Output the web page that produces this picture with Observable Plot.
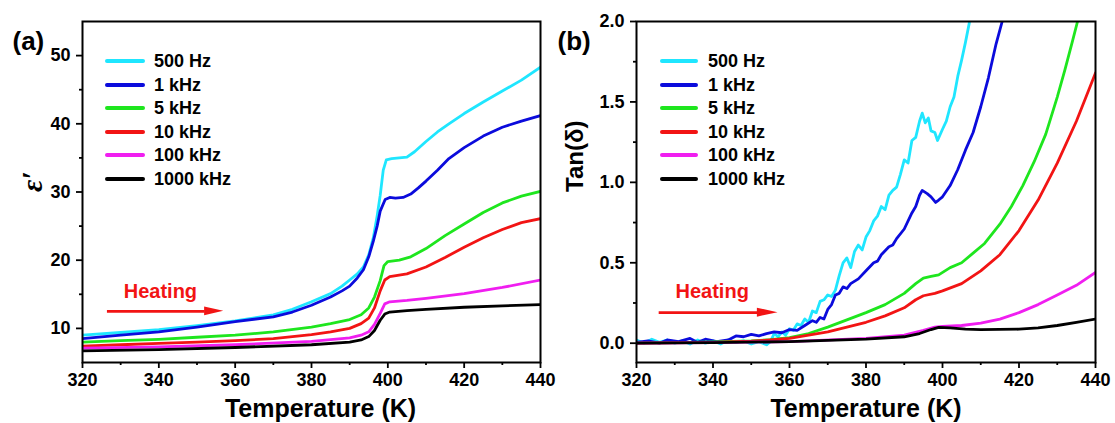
<!DOCTYPE html>
<html>
<head>
<meta charset="utf-8">
<script src="https://cdn.jsdelivr.net/npm/d3@7"></script>
<script src="https://cdn.jsdelivr.net/npm/@observablehq/plot@0.6"></script>
<style>
  html, body { margin: 0; padding: 0; background: #fff; }
  #wrap { position: relative; width: 1115px; height: 423px; display: flex; }
  .legend { position: absolute; font-family: "Liberation Sans", Arial, sans-serif; font-weight: bold; font-size: 18px; color: #000; }
  .legend .row { position: absolute; height: 20px; white-space: nowrap; }
  .legend .sw { position: absolute; top: 8px; height: 4px; border-radius: 2px; }
  .legend .lab { position: absolute; top: 0; line-height: 20px; }
</style>
</head>
<body>
<div id="wrap"></div>
<script>
// ---------- data ----------
const freqs = ["500 Hz", "1 kHz", "5 kHz", "10 kHz", "100 kHz", "1000 kHz"];
const colors = ["#1fe6ff", "#0b0bdc", "#1ee61e", "#f21414", "#f01ef0", "#000000"];

const xTicks = [320, 340, 360, 380, 400, 420, 440];
const xMinor = [330, 350, 370, 390, 410, 430];
const epsTicks = [10, 20, 30, 40, 50];
const epsMinor = [15, 25, 35, 45];
const tanTicks = [0, 0.5, 1.0, 1.5, 2.0];
const tanMinor = [0.25, 0.75, 1.25, 1.75];

// (a) real permittivity epsilon'
const eps500 = [[320,9.0],[330,9.4],[340,9.8],[350,10.4],[360,11.1],[370,12.0],[375,12.8],[380,13.9],[385,15.1],[388,16.2],[390,17.1],[392,18.0],[393.6,19.0],[395,20.8],[396.2,23.3],[397.2,26.5],[398,29.5],[398.8,33.2],[399.6,34.7],[401,34.9],[403,35.0],[405,35.1],[407,35.9],[410,37.4],[413,38.8],[416,40.0],[420,41.5],[425,43.2],[430,44.8],[435,46.4],[440,48.3]];
const eps1k = [[320,8.5],[330,9.0],[340,9.5],[350,10.2],[360,11.0],[370,11.7],[375,12.4],[380,13.4],[385,14.6],[388,15.5],[390,16.2],[392,17.4],[393.6,18.6],[395,20.5],[396.2,22.8],[397.2,25.0],[398,27.2],[399.3,28.9],[400.5,29.2],[402,29.1],[404,29.2],[406,29.7],[408,30.6],[410,31.6],[413,33.2],[416,34.9],[420,36.5],[425,38.2],[430,39.5],[435,40.4],[440,41.2]];
const eps5k = [[320,8.0],[330,8.2],[340,8.4],[350,8.7],[360,9.0],[370,9.5],[380,10.2],[385,10.7],[390,11.3],[393,12.0],[395,13.0],[396.5,14.6],[398,17.0],[399,19.2],[400,19.8],[403,20.0],[406,20.5],[410,21.7],[415,23.6],[420,25.3],[425,27.0],[430,28.4],[435,29.4],[440,30.1]];
const eps10k = [[320,7.4],[330,7.6],[340,7.8],[350,8.0],[360,8.2],[370,8.5],[380,9.1],[385,9.5],[390,10.0],[393,10.7],[395,11.5],[396.5,13.0],[398,15.5],[399.2,17.1],[400.5,17.6],[405,18.0],[410,19.0],[415,20.4],[420,21.9],[425,23.3],[430,24.5],[435,25.5],[440,26.1]];
const eps100k = [[320,7.1],[340,7.3],[360,7.6],[380,8.1],[390,8.6],[393,9.0],[395,9.5],[396.5,10.6],[398,12.2],[399.2,13.6],[400.5,13.9],[405,14.1],[410,14.4],[420,15.1],[430,16.0],[440,17.1]];
const eps1000k = [[320,6.7],[340,6.9],[360,7.2],[380,7.6],[390,8.0],[393,8.3],[395,8.8],[396.5,9.7],[398,11.2],[399.2,12.1],[400.5,12.4],[405,12.6],[410,12.8],[420,13.1],[430,13.3],[440,13.5]];

// (b) loss tangent
const tan500 = [[320,0.02],[322,0.0],[324,0.025],[326,0.005],[328,0.02],[330,0.0],[332,0.015],[334,-0.005],[336,0.02],[338,0.0],[340,0.015],[342,-0.005],[344,0.02],[346,0.005],[348,0.015],[350,-0.005],[352,0.01],[354,-0.01],[355,0.01],[356,0.06],[357,0.04],[358,0.07],[359,0.05],[360,0.09],[361,0.08],[362,0.12],[363,0.11],[364,0.15],[365,0.13],[366,0.2],[367,0.19],[368,0.26],[369,0.27],[370,0.3],[371,0.29],[372,0.33],[373,0.42],[374,0.5],[375,0.53],[376,0.47],[377,0.57],[378,0.61],[379,0.58],[380,0.66],[381,0.7],[382,0.76],[383,0.79],[384,0.85],[385,0.83],[386,0.92],[387,0.95],[388,0.97],[389,1.05],[390,1.14],[391,1.12],[392,1.26],[393,1.28],[394,1.38],[394.7,1.43],[395.5,1.37],[396.3,1.4],[397,1.32],[398,1.31],[398.7,1.26],[400,1.33],[401,1.38],[402,1.47],[403,1.53],[404,1.66],[405,1.76],[406,1.87],[407,1.99],[408,2.15]];
const tan1k = [[320,0.005],[323,0.015],[326,0.0],[328,0.02],[331,0.01],[334,0.03],[336,0.005],[338,0.025],[341,0.01],[344,0.02],[346,0.045],[348,0.04],[350,0.055],[352,0.045],[354,0.06],[356,0.07],[358,0.065],[360,0.085],[362,0.08],[364,0.11],[366,0.14],[367,0.13],[368,0.16],[369,0.15],[370,0.21],[371,0.24],[372,0.3],[373,0.31],[374,0.35],[375,0.34],[376,0.37],[378,0.4],[380,0.45],[382,0.5],[383,0.51],[384,0.55],[386,0.6],[387,0.61],[388,0.65],[390,0.71],[392,0.81],[393,0.85],[394,0.92],[394.7,0.95],[396,0.93],[397,0.91],[398.2,0.875],[399,0.89],[400,0.91],[402,0.98],[404,1.08],[406,1.2],[408,1.31],[410,1.47],[412,1.65],[414,1.86],[415.6,2.0],[416.5,2.1]];
const tan5k = [[320,0.0],[330,0.003],[340,0.008],[350,0.015],[355,0.022],[360,0.035],[365,0.06],[370,0.1],[375,0.145],[380,0.19],[385,0.24],[390,0.31],[393,0.37],[395,0.405],[397,0.415],[399,0.425],[402,0.47],[405,0.5],[408,0.56],[411,0.62],[415,0.74],[418,0.85],[421,0.98],[424,1.13],[427,1.3],[430,1.53],[432,1.7],[434,1.88],[435.3,2.0],[436,2.1]];
const tan10k = [[320,0.0],[340,0.005],[350,0.012],[355,0.02],[360,0.03],[365,0.05],[370,0.07],[375,0.1],[380,0.13],[385,0.17],[390,0.22],[393,0.27],[395,0.295],[398,0.31],[400,0.325],[405,0.37],[410,0.45],[415,0.55],[420,0.7],[425,0.89],[430,1.12],[435,1.38],[440,1.68]];
const tan100k = [[320,0.0],[340,0.003],[360,0.01],[380,0.03],[390,0.05],[395,0.08],[398,0.1],[400,0.105],[405,0.11],[410,0.125],[415,0.15],[420,0.19],[425,0.24],[430,0.3],[435,0.36],[440,0.44]];
const tan1000k = [[320,0.0],[340,0.003],[360,0.01],[380,0.025],[390,0.04],[394,0.06],[397,0.085],[399,0.098],[402,0.095],[406,0.088],[410,0.085],[420,0.087],[425,0.095],[430,0.11],[435,0.13],[440,0.15]];

// annotation: "Heating" arrow (x from, head base, tip; y)
const heatA = {x0: 326.4, xb: 352.0, xt: 357.0, y: 12.5, h: 0.65, tx: 330.8, ty: 15.4};
const heatB = {x0: 325.8, xb: 351.6, xt: 357.0, y: 0.19, h: 0.028, tx: 330.2, ty: 0.32};

// ---------- build ----------
const toRows = (series) => series.flatMap((s, i) => s.map(([T, v]) => ({T, v, f: freqs[i]})));
const epsRows = toRows([eps500, eps1k, eps5k, eps10k, eps100k, eps1000k]);
const tanRows = toRows([tan500, tan1k, tan5k, tan10k, tan100k, tan1000k]);

const FONT = '"Liberation Sans", Arial, sans-serif';
const RED = "#f21414";

function panel({rows, width, marginLeft, marginRight, yDomain, yTicks, yMinor, yFmt, panelLabel, panelDx, yLabel, yLabelDx, yLabelStyle, heat, titleDx}) {
  return Plot.plot({
    width, height: 423,
    marginLeft, marginRight, marginTop: 21, marginBottom: 61,
    style: {fontFamily: FONT, fontSize: "18px", fontWeight: "bold", color: "#000", background: "#fff", overflow: "visible"},
    x: {domain: [320, 440], label: null},
    y: {domain: yDomain, label: null},
    color: {domain: freqs, range: colors},
    marks: [
      Plot.line(rows, {x: "T", y: "v", z: "f", stroke: "f", strokeWidth: 2.8, clip: true, strokeLinejoin: "round"}),
      Plot.frame({stroke: "#000", strokeWidth: 2}),
      Plot.axisX({ticks: xTicks, tickSize: 6, tickPadding: 5, strokeWidth: 1.8, label: null}),
      Plot.axisX({ticks: xMinor, tickSize: 3, tickFormat: () => "", strokeWidth: 1.8, label: null}),
      Plot.axisY({ticks: yTicks, tickSize: 6, tickPadding: 6, strokeWidth: 1.8, tickFormat: yFmt, label: null}),
      Plot.axisY({ticks: yMinor, tickSize: 3, tickFormat: () => "", strokeWidth: 1.8, label: null}),
      Plot.text(["Temperature (K)"], {frameAnchor: "bottom", dy: 54, dx: titleDx, fontSize: 25, fontWeight: "bold"}),
      Plot.text([yLabel], {frameAnchor: "left", dx: yLabelDx, rotate: -90, ...yLabelStyle}),
      Plot.text([panelLabel], {frameAnchor: "top-left", dx: panelDx, dy: 10, textAnchor: "start", fontSize: 26, fontWeight: "bold"}),
      Plot.text([heat], {x: "tx", y: "ty", text: () => "Heating", textAnchor: "start", fill: RED, fontSize: 20, fontWeight: "bold"}),
      Plot.link([heat], {x1: "x0", x2: "xb", y1: "y", y2: "y", stroke: RED, strokeWidth: 2.6}),
      Plot.areaY([{x: heat.xb, y1: heat.y - heat.h, y2: heat.y + heat.h}, {x: heat.xt, y1: heat.y, y2: heat.y}], {x: "x", y1: "y1", y2: "y2", fill: RED})
    ]
  });
}

const wrap = document.getElementById("wrap");
wrap.append(panel({
  rows: epsRows, width: 557, marginLeft: 82, marginRight: 17,
  yDomain: [5, 55], yTicks: epsTicks, yMinor: epsMinor, yFmt: d => String(d),
  panelLabel: "(a)", panelDx: -70, yLabel: "ε\u2032", yLabelDx: -50,
  yLabelStyle: {fontSize: 30, fontStyle: "italic", fontWeight: "bold", fontFamily: '"Liberation Serif", "Times New Roman", serif'},
  heat: heatA, titleDx: 9
}));
wrap.append(panel({
  rows: tanRows, width: 558, marginLeft: 79, marginRight: 20,
  yDomain: [-0.12, 2.0], yTicks: tanTicks, yMinor: tanMinor, yFmt: d => d.toFixed(1),
  panelLabel: "(b)", panelDx: -79, yLabel: "Tan(δ)", yLabelDx: -61,
  yLabelStyle: {fontSize: 24, fontWeight: "bold"},
  heat: heatB, titleDx: 0
}));

// legends (HTML overlay)
function legend(left, lineW, textLeft) {
  const div = document.createElement("div");
  div.className = "legend";
  div.style.left = left + "px";
  div.style.top = "0px";
  freqs.forEach((f, i) => {
    const row = document.createElement("div");
    row.className = "row";
    row.style.top = (51 + i * 23.6) + "px";
    row.innerHTML = `<div class="sw" style="left:0;width:${lineW}px;background:${colors[i]}"></div><div class="lab" style="left:${textLeft}px">${f}</div>`;
    div.append(row);
  });
  wrap.append(div);
}
legend(105, 40, 49);
legend(660, 38, 48);
</script>
</body>
</html>
